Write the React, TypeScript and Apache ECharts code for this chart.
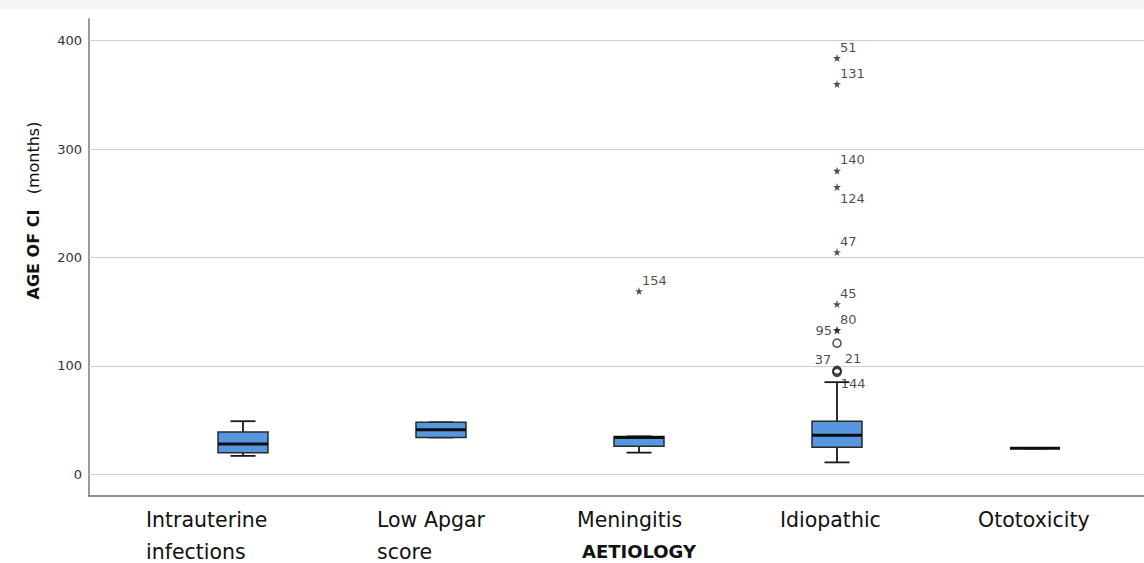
import React, { useEffect, useRef } from "react";
import * as echarts from "echarts";

// ---- data ----
const categories = ["Intrauterine\ninfections", "Low Apgar\nscore", "Meningitis", "Idiopathic", "Ototoxicity"];
const boxMin = [17, 34, 20, 11, 24];
const boxQ1 = [20, 34, 26, 25, 24];
const boxMedian = [28, 41, 34, 36, 24];
const boxQ3 = [39, 48, 35, 49, 24];
const boxMax = [49, 48, 35, 85, 24];

const outlierCategory = [2, 3, 3, 3, 3, 3, 3, 3, 3, 3, 3, 3, 3];
const outlierValue = [169, 384, 360, 280, 265, 205, 157, 133, 133, 121, 96, 95, 94];
const outlierCase = ["154", "51", "131", "140", "124", "47", "45", "80", "95", "", "37", "21", "144"];
const outlierKind = ["extreme", "extreme", "extreme", "extreme", "extreme", "extreme", "extreme", "extreme", "extreme", "mild", "mild", "mild", "mild"];
const outlierLabelSide = ["upRight", "upRight", "upRight", "upRight", "downRight", "upRight", "upRight", "upRight", "left", "none", "upLeft", "upRight2", "downRight"];

const yTicks = [0, 100, 200, 300, 400];
const yMin = -20;
const yMax = 420;

const labelWidths = [194, 128, 124, 114, 114];

const STAR = "path://M50,0 L61,35 L98,35 L68,57 L79,91 L50,70 L21,91 L32,57 L2,35 L39,35 Z";
const FONT = "DejaVu Sans";

function labelFor(side: string) {
  const base = { show: side !== "none", fontFamily: FONT, fontSize: 13, color: "#1a1a1a" };
  switch (side) {
    case "upRight":
      return { ...base, position: "right", distance: 0, offset: [-1, -11] };
    case "upRight2":
      return { ...base, position: "right", distance: 0, offset: [3, -13] };
    case "downRight":
      return { ...base, position: "right", distance: 0, offset: [-1, 11] };
    case "left":
      return { ...base, position: "left", distance: 1, offset: [0, 0] };
    case "upLeft":
      return { ...base, position: "left", distance: 1, offset: [0, -11] };
    default:
      return { ...base, show: false };
  }
}

export default function App() {
  const ref = useRef<HTMLDivElement>(null);
  useEffect(() => {
    document.body.style.margin = "0";
    const chart = echarts.init(ref.current!, undefined, { renderer: "svg" });

    const rich: any = {};
    labelWidths.forEach((w, i) => {
      rich["c" + i] = { width: w, align: "left", fontFamily: FONT, fontSize: 20.5, color: "#111", lineHeight: 32 };
    });

    const boxData = categories.map((_, i) => [i, boxMin[i], boxQ1[i], boxMedian[i], boxQ3[i], boxMax[i]]);

    const outlierData = outlierValue.map((v, i) => ({
      value: [outlierCategory[i], v],
      name: outlierCase[i],
      symbol: outlierKind[i] === "extreme" ? STAR : "circle",
      symbolSize: 8,
      itemStyle:
        outlierKind[i] === "extreme"
          ? { color: "#222", borderWidth: 0 }
          : { color: "rgba(255,255,255,0)", borderColor: "#222", borderWidth: 1.5 },
      label: { ...labelFor(outlierLabelSide[i]), formatter: outlierCase[i] },
    }));

    const option: any = {
      animation: false,
      backgroundColor: "#ffffff",
      graphic: [
        { type: "rect", left: 0, top: 0, shape: { width: 1144, height: 9 }, style: { fill: "#f4f4f4" }, silent: true },
      ],
      grid: [
        { left: 89, right: 0, top: 19, bottom: 67, outerBoundsMode: "none", containLabel: false },
        { left: 144, right: 10, top: 19, bottom: 67, outerBoundsMode: "none", containLabel: false },
      ],
      xAxis: [
        {
          gridIndex: 0,
          type: "value",
          min: 0,
          max: 1,
          axisLine: { show: true, onZero: false, lineStyle: { color: "#6e6e6e", width: 1.5 } },
          axisTick: { show: false },
          axisLabel: { show: false },
          splitLine: { show: false },
        },
        {
          gridIndex: 1,
          type: "category",
          data: categories,
          boundaryGap: true,
          axisLine: { show: false },
          axisTick: { show: false },
          splitLine: { show: false },
          axisLabel: {
            interval: 0,
            margin: 8,
            align: "center",
            formatter: (v: string, i: number) =>
              v
                .split("\n")
                .map((line) => `{c${i}|${line}}`)
                .join("\n"),
            rich,
          },
          name: "AETIOLOGY",
          nameLocation: "middle",
          nameGap: 46,
          nameMoveOverlap: false,
          nameTextStyle: { fontFamily: FONT, fontWeight: "bold", fontSize: 18, color: "#111" },
        },
      ],
      yAxis: [
        {
          gridIndex: 0,
          type: "value",
          min: yMin,
          max: yMax,
          interval: 20,
          axisLine: { show: true, onZero: false, lineStyle: { color: "#999", width: 2 } },
          axisTick: { show: false },
          splitLine: { show: false },
          axisLabel: {
            margin: 7,
            fontFamily: FONT,
            fontSize: 13,
            color: "#333",
            formatter: (v: number) => (yTicks.includes(v) ? String(v) : ""),
          },
          name: "{b|AGE OF CI}{n|   (months)}",
          nameLocation: "middle",
          nameRotate: 90,
          nameGap: 48,
          nameMoveOverlap: false,
          nameTextStyle: {
            padding: [0, 0, 0, 94],
            rich: {
              b: { fontFamily: FONT, fontWeight: "bold", fontSize: 16, color: "#111" },
              n: { fontFamily: FONT, fontSize: 16, color: "#111" },
            },
          },
        },
        { gridIndex: 1, type: "value", min: yMin, max: yMax, interval: 20, show: false },
      ],
      series: [
        {
          type: "line",
          xAxisIndex: 0,
          yAxisIndex: 0,
          data: [],
          silent: true,
          markLine: {
            silent: true,
            symbol: ["none", "none"],
            label: { show: false },
            lineStyle: { color: "#d0d0d0", type: "solid", width: 1 },
            data: yTicks.map((t) => ({ yAxis: t })),
          },
        },
        {
          type: "custom",
          xAxisIndex: 1,
          yAxisIndex: 1,
          data: boxData,
          encode: { x: 0, y: [1, 2, 3, 4, 5] },
          renderItem: (params: any, api: any) => {
            const c = api.value(0);
            const pMin = api.coord([c, api.value(1)]);
            const pQ1 = api.coord([c, api.value(2)]);
            const pMed = api.coord([c, api.value(3)]);
            const pQ3 = api.coord([c, api.value(4)]);
            const pMax = api.coord([c, api.value(5)]);
            const x = pMed[0];
            const bw = 50;
            const cw = 25;
            const stroke = { stroke: "#1a1a1a", lineWidth: 1.8 };
            return {
              type: "group",
              children: [
                { type: "line", shape: { x1: x, y1: pQ3[1], x2: x, y2: pMax[1] }, style: stroke },
                { type: "line", shape: { x1: x, y1: pQ1[1], x2: x, y2: pMin[1] }, style: stroke },
                { type: "line", shape: { x1: x - cw / 2, y1: pMax[1], x2: x + cw / 2, y2: pMax[1] }, style: stroke },
                { type: "line", shape: { x1: x - cw / 2, y1: pMin[1], x2: x + cw / 2, y2: pMin[1] }, style: stroke },
                {
                  type: "rect",
                  shape: { x: x - bw / 2, y: pQ3[1], width: bw, height: pQ1[1] - pQ3[1] },
                  style: { fill: "#5698e0", stroke: "#2a2a2a", lineWidth: 1.5 },
                },
                {
                  type: "line",
                  shape: { x1: x - bw / 2, y1: pMed[1], x2: x + bw / 2, y2: pMed[1] },
                  style: { stroke: "#0d0d0d", lineWidth: 3 },
                },
              ],
            };
          },
        },
        {
          type: "scatter",
          xAxisIndex: 1,
          yAxisIndex: 1,
          data: outlierData,
          z: 5,
        },
      ],
    };

    chart.setOption(option);
    return () => chart.dispose();
  }, []);

  return <div ref={ref} style={{ width: 1144, height: 563 }} />;
}
